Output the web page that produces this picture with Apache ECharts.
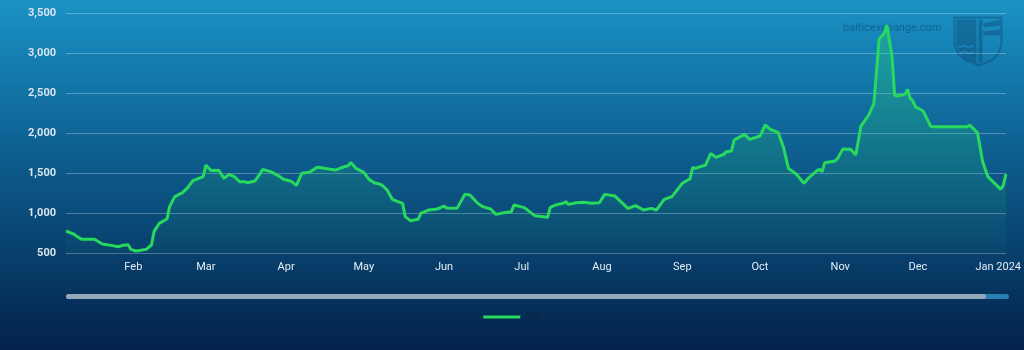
<!DOCTYPE html>
<html>
<head>
<meta charset="utf-8">
<script src="https://cdn.jsdelivr.net/npm/echarts@6/dist/echarts.min.js"></script>
<style>
html,body{margin:0;padding:0;background:#03234d;}
#chart{width:1024px;height:350px;}
</style>
</head>
<body>
<div id="chart"></div>
<script>
const dates = [
'2023-01-06','2023-01-09','2023-01-10','2023-01-12','2023-01-17','2023-01-20','2023-01-24','2023-01-26','2023-01-28','2023-01-30','2023-01-31',
'2023-02-02','2023-02-04','2023-02-06','2023-02-08','2023-02-09','2023-02-11','2023-02-14','2023-02-15','2023-02-17','2023-02-20','2023-02-22','2023-02-24','2023-02-28',
'2023-03-01','2023-03-03','2023-03-06','2023-03-08','2023-03-10','2023-03-12','2023-03-14','2023-03-16','2023-03-17','2023-03-20','2023-03-23','2023-03-26','2023-03-28','2023-03-30','2023-03-31',
'2023-04-03','2023-04-05','2023-04-07','2023-04-10','2023-04-13','2023-04-16','2023-04-18','2023-04-20','2023-04-22','2023-04-25','2023-04-26','2023-04-28',
'2023-05-01','2023-05-03','2023-05-05','2023-05-07','2023-05-08','2023-05-10','2023-05-12','2023-05-16','2023-05-17','2023-05-19','2023-05-22','2023-05-23','2023-05-26','2023-05-29',
'2023-06-01','2023-06-02','2023-06-06','2023-06-09','2023-06-11','2023-06-14','2023-06-16','2023-06-19','2023-06-21','2023-06-24','2023-06-27','2023-06-28',
'2023-07-02','2023-07-06','2023-07-11','2023-07-12','2023-07-14','2023-07-17','2023-07-18','2023-07-19','2023-07-22','2023-07-25','2023-07-28','2023-07-31',
'2023-08-02','2023-08-06','2023-08-11','2023-08-14','2023-08-17','2023-08-20','2023-08-22','2023-08-25','2023-08-28',
'2023-09-01','2023-09-04','2023-09-05','2023-09-06','2023-09-08','2023-09-10','2023-09-12','2023-09-14','2023-09-17','2023-09-18','2023-09-20','2023-09-21','2023-09-25','2023-09-27',
'2023-10-01','2023-10-03','2023-10-05','2023-10-08','2023-10-10','2023-10-12','2023-10-15','2023-10-18','2023-10-20','2023-10-23','2023-10-24','2023-10-25','2023-10-26','2023-10-30','2023-10-31',
'2023-11-02','2023-11-05','2023-11-07','2023-11-09','2023-11-12','2023-11-14','2023-11-16','2023-11-18','2023-11-19','2023-11-21','2023-11-22','2023-11-23','2023-11-26','2023-11-27','2023-11-28','2023-11-29','2023-11-30',
'2023-12-03','2023-12-06','2023-12-20','2023-12-21','2023-12-24','2023-12-26','2023-12-28',
'2024-01-02','2024-01-03','2024-01-04'
];
const bdi = [
775,737,712,671,671,612,592,579,596,604,546,
525,534,546,600,767,871,925,1079,1204,1254,1317,1404,1454,
1600,1530,1535,1433,1483,1454,1392,1392,1379,1400,1546,1517,1483,1446,1421,
1396,1346,1496,1508,1571,1558,1546,1537,1562,1592,1633,1558,
1508,1421,1379,1362,1350,1287,1171,1121,954,904,921,996,1037,1046,
1087,1062,1058,1233,1225,1121,1079,1050,983,1004,1017,1100,
1067,967,946,1071,1100,1121,1142,1108,1129,1133,1121,1129,
1233,1212,1058,1092,1037,1058,1037,1171,1204,
1371,1429,1571,1558,1579,1600,1746,1696,1733,1767,1775,1912,1983,1921,
1962,2100,2046,2008,1829,1558,1487,1371,1446,1529,1546,1517,1629,1650,1683,
1800,1796,1725,2087,2225,2371,3171,3246,3350,2954,2475,2462,2483,2546,2433,2404,2329,
2275,2079,2079,2100,2004,1642,1454,
1296,1350,1487
];
const tickDates = ['2023-02-01','2023-03-01','2023-04-01','2023-05-01','2023-06-01','2023-07-01','2023-08-01','2023-09-01','2023-10-01','2023-11-01','2023-12-01','2024-01-01'];
const tickLabels = ['Feb','Mar','Apr','May','Jun','Jul','Aug','Sep','Oct','Nov','Dec','Jan 2024'];
const yTicks = [500,1000,1500,2000,2500,3000,3500];
const seriesName = 'BDI';

const toTs = s => new Date(s + 'T00:00:00').getTime();
const tickTs = tickDates.map(toTs);
const labelByTs = {};
tickTs.forEach((t,i)=>{ labelByTs[t] = tickLabels[i]; });

const wm = 'rgba(8,45,85,0.30)';
const chart = echarts.init(document.getElementById('chart'), null, {renderer:'canvas'});
chart.setOption({
  animation: false,
  backgroundColor: {
    type:'linear', x:0, y:0, x2:0, y2:1,
    colorStops:[
      {offset:0, color:'#1a92c5'},
      {offset:0.45, color:'#0d5d8e'},
      {offset:1, color:'#03224b'}
    ]
  },
  grid: {left:66, right:16, top:13, bottom:97, containLabel:false},
  legend: {
    bottom: 23, left:'center',
    data:[{name:seriesName, icon:'rect'}],
    itemWidth: 37, itemHeight: 3, itemGap: 5,
    textStyle:{color:'#0c2444', fontSize:10, fontFamily:'Roboto'}
  },
  xAxis: {
    type:'value',
    min: toTs('2023-01-06'),
    max: toTs('2024-01-04'),
    axisLine:{show:false},
    axisTick:{show:false},
    splitLine:{show:false},
    axisLabel:{
      customValues: tickTs,
      formatter: v => labelByTs[v] || '',
      color:'#e3edf4', fontSize:11, fontFamily:'Roboto', margin:9
    }
  },
  yAxis: {
    type:'value', min: yTicks[0], max: yTicks[yTicks.length-1], interval:500,
    axisLine:{show:false}, axisTick:{show:false},
    splitLine:{lineStyle:{color:'rgba(255,255,255,0.28)', width:1}},
    axisLabel:{
      color:'#d9e6ef', fontSize:11, fontWeight:'bold', fontFamily:'Roboto', margin:10,
      formatter: v => v.toLocaleString('en-US')
    }
  },
  graphic: [
    {type:'text', left:843, top:23, silent:true, z:0,
     style:{text:'balticexchange.com', fill:'rgba(5,40,80,0.38)', font:'11px Roboto'}},
    {type:'group', left:952, top:15, silent:true, z:0, children:[
      {type:'polygon', shape:{points:[[0,0],[47,0],[47,26],[44,36],[37,43],[24,48],[11,43],[3,36],[0,26]]},
       style:{fill:'none', stroke:wm, lineWidth:2}},
      {type:'polygon', shape:{points:[[2,2],[22,2],[22,46],[11,42],[4,35],[2,26]]},
       style:{fill:wm}},
      {type:'polyline', shape:{points:[[4,30],[9,28],[14,30],[19,28]]}, style:{stroke:'rgba(26,130,185,0.9)', lineWidth:2, fill:'none'}},
      {type:'polyline', shape:{points:[[5,36],[10,34],[15,36],[20,34]]}, style:{stroke:'rgba(26,130,185,0.9)', lineWidth:2, fill:'none'}},
      {type:'polygon', shape:{points:[[28,6],[46,2],[46,8],[30,10]]}, style:{fill:wm}},
      {type:'polygon', shape:{points:[[28,14],[46,12],[46,18],[30,18]]}, style:{fill:wm}},
      {type:'polygon', shape:{points:[[24,2],[28,2],[28,44],[24,46]]}, style:{fill:wm}}
    ]},
    {type:'rect', left:66, top:294, silent:true,
     shape:{width:943, height:5, r:2.5}, style:{fill:'#2a7fb0'}},
    {type:'rect', left:66, top:294, silent:true,
     shape:{width:920, height:5, r:2.5}, style:{fill:'#94a8ba'}}
  ],
  series: [{
    name: seriesName,
    type:'line',
    data: dates.map((d,i)=>[toTs(d), bdi[i]]),
    showSymbol:false,
    symbol:'none',
    smooth:false,
    lineStyle:{color:'#27d95c', width:3},
    itemStyle:{color:'#27d95c'},
    areaStyle:{
      color:{type:'linear', x:0, y:0, x2:0, y2:1,
        colorStops:[{offset:0, color:'rgba(40,215,110,0.5)'},{offset:1, color:'rgba(40,215,110,0.04)'}]}
    }
  }]
});
</script>
</body>
</html>
